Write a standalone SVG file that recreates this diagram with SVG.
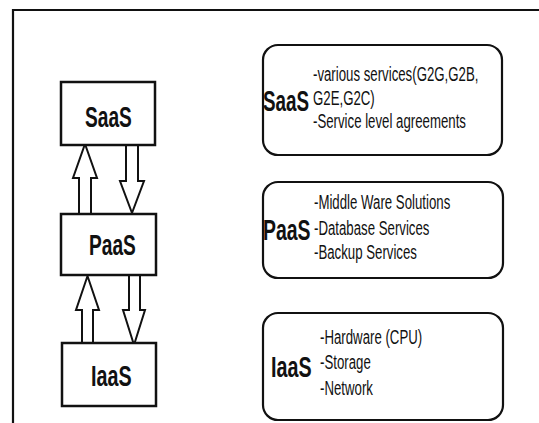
<svg xmlns="http://www.w3.org/2000/svg" width="539" height="423" viewBox="0 0 539 423">
<style>
.frame{fill:none;stroke:#111;stroke-width:2.2}
.box{fill:#fff;stroke:#111;stroke-width:2.5}
.rbox{fill:#fff;stroke:#111;stroke-width:2.2}
.arrow{fill:#fff;stroke:#111;stroke-width:2;stroke-linejoin:miter}
.big{font-family:"Liberation Sans",Arial,sans-serif;font-weight:bold;font-size:29px;fill:#111}
.item{font-family:"Liberation Sans",Arial,sans-serif;font-size:21px;fill:#111}
</style>
<rect width="539" height="423" fill="#fff"/>
<path class="frame" d="M13,423 V10 H539"/>
<g id="connectors">
<polygon class="arrow" points="85,144 97,178 91,178 91,214 79,214 79,178 73,178"/>
<polygon class="arrow" points="126,145 138,145 138,181 144,181 132,213 120,181 126,181"/>
<polygon class="arrow" points="87.5,276 99,310 93,310 93,343 82,343 82,310 76,310"/>
<polygon class="arrow" points="129,275 140,275 140,310 145,310 134,345 123,310 129,310"/>
</g>
<g id="saas-node">
<rect class="box" x="61" y="82" width="94" height="63"/>
<text class="big" transform="translate(85,127) scale(0.66,1)">SaaS</text>
</g>
<g id="paas-node">
<rect class="box" x="61" y="214" width="95" height="61"/>
<text class="big" transform="translate(89,255) scale(0.66,1)">PaaS</text>
</g>
<g id="iaas-node">
<rect class="box" x="62" y="343" width="94" height="63"/>
<text class="big" transform="translate(91,386) scale(0.68,1)">IaaS</text>
</g>
<g id="saas-detail">
<rect class="rbox" x="263" y="45" width="239" height="110" rx="15"/>
<text class="big" transform="translate(263,111) scale(0.65,1)">SaaS</text>
<text class="item" transform="translate(313,81) scale(0.63,1)">-various services(G2G,G2B,</text>
<text class="item" transform="translate(313,105) scale(0.63,1)">G2E,G2C)</text>
<text class="item" transform="translate(313,128) scale(0.63,1)">-Service level agreements</text>
</g>
<g id="paas-detail">
<rect class="rbox" x="263" y="182" width="240" height="96" rx="15"/>
<text class="big" transform="translate(263,240) scale(0.67,1)">PaaS</text>
<text class="item" transform="translate(314,209) scale(0.63,1)">-Middle Ware Solutions</text>
<text class="item" transform="translate(314,235) scale(0.63,1)">-Database Services</text>
<text class="item" transform="translate(314,259) scale(0.63,1)">-Backup Services</text>
</g>
<g id="iaas-detail">
<rect class="rbox" x="263" y="313" width="240" height="107" rx="15"/>
<text class="big" transform="translate(271,377) scale(0.68,1)">IaaS</text>
<text class="item" transform="translate(320,344) scale(0.63,1)">-Hardware (CPU)</text>
<text class="item" transform="translate(320,369) scale(0.63,1)">-Storage</text>
<text class="item" transform="translate(320,395) scale(0.63,1)">-Network</text>
</g>
</svg>
